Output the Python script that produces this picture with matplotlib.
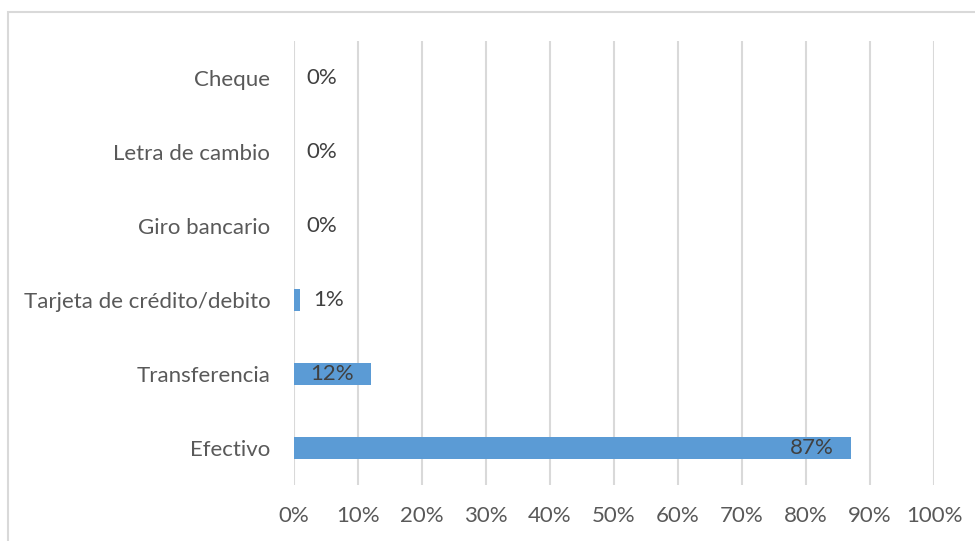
import numpy as np
from matplotlib import pyplot as plt
from matplotlib.patches import Rectangle

# Medios de pago (de abajo hacia arriba)
categorias = ["Efectivo", "Transferencia", "Tarjeta de crédito/debito",
              "Giro bancario", "Letra de cambio", "Cheque"]
porcentajes = [87, 12, 1, 0, 0, 0]
ticks_x = np.arange(0, 101, 10)

plt.rcParams['font.family'] = ['Lato', 'DejaVu Sans']
FS = 16

fig = plt.figure(figsize=(9.75, 5.41), dpi=100)
ax = fig.add_axes([0.3015, 0.1035, 0.6565, 0.8207])

y = np.arange(len(categorias))
ax.barh(y, porcentajes, height=0.31, color='#5b9bd5', zorder=3)

ax.set_xlim(0, 100)
ax.set_ylim(-0.5, len(categorias) - 0.5)
ax.set_xticks(ticks_x)
ax.set_xticklabels([f"{t}%" for t in ticks_x])
ax.set_yticks(y)
ax.set_yticklabels(categorias)
ax.tick_params(axis='both', length=0, labelsize=FS, colors='#595959')
ax.tick_params(axis='x', pad=15)
ax.tick_params(axis='y', pad=17)
ax.grid(axis='x', color='#d9d9d9', linewidth=1.5, zorder=0)
for s in ax.spines.values():
    s.set_visible(False)

# Etiquetas de datos
for yi, v in zip(y, porcentajes):
    if v >= 5:
        ax.annotate(f"{v}%", (v, yi), xytext=(-12, 0), textcoords='offset points',
                    ha='right', va='center', fontsize=FS, color='#404040', zorder=4)
    else:
        ax.annotate(f"{v}%", (v, yi), xytext=(9, 0), textcoords='offset points',
                    ha='left', va='center', fontsize=FS, color='#404040', zorder=4)

# Borde del gráfico
fig.patches.append(Rectangle((8 / 975, -0.1), 1.1, 1 - 11.5 / 541 + 0.1,
                             transform=fig.transFigure, fill=False,
                             edgecolor='#d9d9d9', linewidth=1.5))

fig.savefig("out.png", dpi=100)
